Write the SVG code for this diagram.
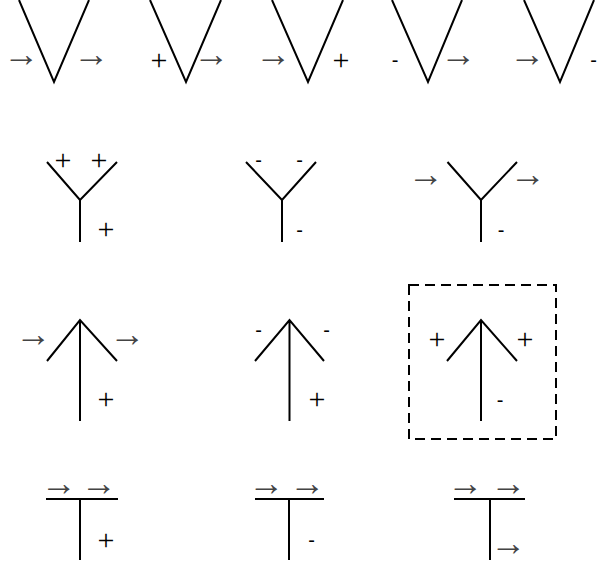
<svg xmlns="http://www.w3.org/2000/svg" width="597" height="567" viewBox="0 0 597 567">
<style>
.ln{stroke:#000;stroke-width:2;fill:none;stroke-linecap:butt;stroke-linejoin:miter}
.ar{font-family:"Liberation Sans",Arial,sans-serif;font-size:36px;fill:#444;text-anchor:middle;dominant-baseline:central}
.pl{font-family:"Liberation Serif","Times New Roman",serif;font-size:30px;fill:#000;text-anchor:middle;dominant-baseline:central}
.mi{font-family:"Liberation Sans",Arial,sans-serif;font-size:20px;fill:#000;text-anchor:middle;dominant-baseline:central}
.box{stroke:#000;stroke-width:2;fill:none;stroke-dasharray:10,6}
</style>
<rect width="597" height="567" fill="#fff"/>
<g id="v1"><path class="ln" d="M19,0 L54,82 L89,0"/><text class="ar" x="21.5" y="53">→</text><text class="ar" x="91.5" y="53">→</text></g>
<g id="v2"><path class="ln" d="M150,0 L186,82 L221,0"/><text class="pl" x="159" y="59">+</text><text class="ar" x="211.5" y="53">→</text></g>
<g id="v3"><path class="ln" d="M272,0 L308,82 L343,0"/><text class="ar" x="273.5" y="53">→</text><text class="pl" x="341" y="59">+</text></g>
<g id="v4"><path class="ln" d="M392,0 L428,82 L462,0"/><text class="mi" x="395" y="60">-</text><text class="ar" x="458.5" y="53">→</text></g>
<g id="v5"><path class="ln" d="M524,0 L560,82 L594,0"/><text class="ar" x="527.5" y="53">→</text><text class="mi" x="593.5" y="60">-</text></g>

<g id="y1"><path class="ln" d="M47,162 L80,200 L117,162 M80,200 L80,242"/><text class="pl" x="63" y="159">+</text><text class="pl" x="99" y="159">+</text><text class="pl" x="106" y="228">+</text></g>
<g id="y2"><path class="ln" d="M246,162 L282,200 L316,162 M282,200 L282,242"/><text class="mi" x="258.5" y="160">-</text><text class="mi" x="299.5" y="160">-</text><text class="mi" x="299.5" y="230">-</text></g>
<g id="y3"><path class="ln" d="M447.5,162 L481,200 L517,162 M481,200 L481,242"/><text class="ar" x="426" y="173">→</text><text class="ar" x="528" y="173">→</text><text class="mi" x="501" y="230">-</text></g>

<g id="a1"><path class="ln" d="M47,361 L80,320 L117,361 M80,320 L80,421"/><text class="ar" x="33.5" y="333">→</text><text class="ar" x="127.5" y="333">→</text><text class="pl" x="106" y="398">+</text></g>
<g id="a2"><path class="ln" d="M255,361 L289.5,320 L324,361 M289.5,320 L289.5,421"/><text class="mi" x="258.5" y="330">-</text><text class="mi" x="326.5" y="330">-</text><text class="pl" x="317" y="398">+</text></g>
<g id="a3"><rect class="box" x="409" y="285" width="147" height="154"/><path class="ln" d="M447,361 L481,320 L517,361 M481,320 L481,421"/><text class="pl" x="437" y="338">+</text><text class="pl" x="525" y="338">+</text><text class="mi" x="500" y="400">-</text></g>

<g id="t1"><path class="ln" d="M46,499 L118,499 M80,499 L80,560"/><text class="ar" x="59" y="482">→</text><text class="ar" x="99" y="482">→</text><text class="pl" x="106" y="539">+</text></g>
<g id="t2"><path class="ln" d="M255,499 L324,499 M289,499 L289,560"/><text class="ar" x="266.5" y="482">→</text><text class="ar" x="307.5" y="482">→</text><text class="mi" x="311.5" y="540">-</text></g>
<g id="t3"><path class="ln" d="M454,499 L525,499 M490,499 L490,560"/><text class="ar" x="465.5" y="482">→</text><text class="ar" x="508.5" y="482">→</text><text class="ar" x="508.5" y="542">→</text></g>
</svg>
